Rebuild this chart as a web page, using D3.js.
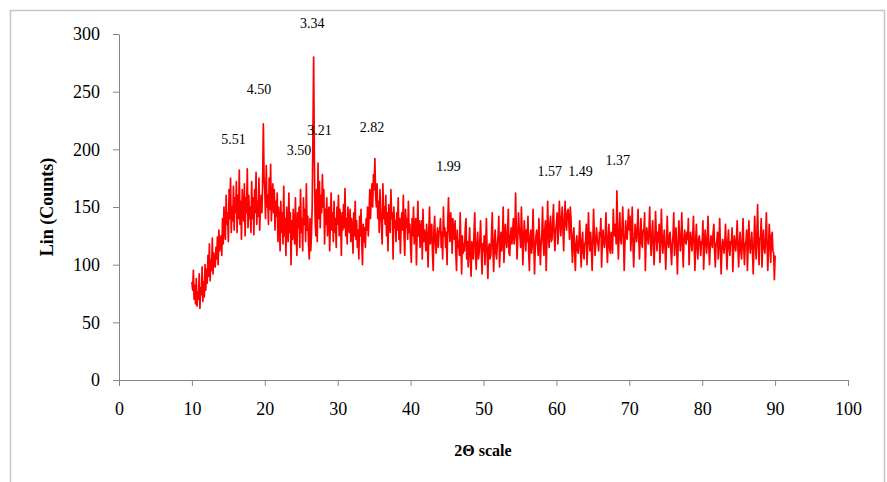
<!DOCTYPE html>
<html>
<head>
<meta charset="utf-8">
<script src="https://cdn.jsdelivr.net/npm/d3@7"></script>
<style>
  body { margin: 0; background: #fff; }
  svg { display: block; }
  .axis path, .axis line { stroke: #868686; }
  .axis text { font-family: "Liberation Serif", "Times New Roman", serif; font-size: 18px; fill: #000; }
</style>
</head>
<body>
<svg id="chart" width="887" height="482"></svg>
<script>
// 2-theta start/step of the scan and counts (0.1 deg steps, 10..90)
var thetaStart = 10;
var thetaStep = 0.1;
var counts = [
  85, 78, 95, 70, 82, 66, 88, 64, 76, 70, 92, 62, 80, 74, 98, 68, 85, 72, 100, 78,
  96, 84, 108, 90, 118, 86, 104, 95, 123, 92, 110, 100, 98, 115, 105, 124, 100, 130, 112, 118,
  125, 108, 140, 118, 150, 130, 122, 160, 135, 145, 120, 165, 140, 175, 128, 150, 138, 168, 130, 158,
  145, 172, 128, 160, 140, 182, 135, 155, 122, 165, 148, 138, 170, 125, 158, 145, 183, 132, 160, 140,
  150, 128, 172, 140, 158, 126, 165, 145, 180, 135, 155, 142, 175, 130, 150, 160, 145, 170, 222, 175,
  165, 140, 186, 150, 160, 135, 175, 148, 187, 138, 158, 170, 145, 165, 130, 155, 142, 162, 120, 150,
  138, 112, 155, 128, 145, 118, 168, 125, 140, 108, 150, 132, 120, 162, 128, 145, 100, 138, 122, 148,
  130, 118, 158, 125, 108, 145, 132, 150, 115, 165, 128, 140, 112, 158, 135, 148, 120, 170, 130, 142,
  118, 105, 140, 112, 125, 150, 210, 280, 190, 140, 125, 165, 120, 188, 140, 172, 132, 160, 145, 178,
  150, 165, 118, 148, 135, 158, 125, 142, 150, 112, 138, 162, 130, 145, 120, 155, 128, 140, 115, 150,
  135, 160, 125, 148, 138, 108, 145, 130, 152, 132, 166, 125, 140, 118, 150, 135, 128, 148, 120, 140,
  132, 110, 145, 125, 155, 122, 138, 115, 130, 105, 142, 125, 148, 118, 100, 135, 120, 132, 115, 140,
  130, 150, 125, 142, 165, 140, 158, 170, 150, 178, 165, 192, 160, 150, 170, 140, 155, 128, 165, 145,
  135, 118, 170, 140, 150, 135, 160, 125, 145, 112, 152, 138, 128, 165, 140, 145, 105, 150, 132, 138,
  120, 145, 130, 158, 122, 140, 110, 135, 145, 130, 160, 125, 108, 148, 132, 140, 122, 155, 128, 135,
  115, 102, 140, 125, 150, 118, 132, 140, 100, 128, 155, 125, 138, 115, 130, 138, 105, 148, 120, 130,
  125, 112, 135, 120, 98, 130, 150, 118, 128, 135, 110, 95, 130, 142, 120, 110, 125, 132, 115, 128,
  130, 140, 115, 128, 105, 150, 125, 132, 115, 128, 100, 138, 158, 130, 120, 145, 135, 110, 140, 125,
  122, 138, 110, 95, 130, 115, 120, 108, 145, 118, 92, 125, 110, 118, 112, 132, 140, 105, 120, 98,
  115, 132, 105, 90, 120, 112, 105, 128, 145, 110, 96, 118, 128, 105, 110, 122, 138, 112, 92, 118,
  112, 125, 100, 118, 140, 110, 88, 115, 118, 105, 108, 125, 145, 112, 94, 120, 130, 110, 105, 118,
  125, 142, 98, 115, 128, 112, 120, 150, 102, 118, 135, 122, 115, 128, 148, 110, 108, 125, 132, 118,
  128, 140, 118, 125, 162, 130, 105, 122, 145, 132, 125, 115, 150, 128, 100, 120, 138, 125, 112, 130,
  120, 142, 110, 95, 125, 130, 110, 118, 148, 120, 92, 115, 125, 130, 118, 108, 140, 122, 100, 118,
  125, 150, 118, 108, 130, 138, 95, 120, 155, 128, 115, 135, 142, 120, 122, 138, 152, 125, 112, 130,
  135, 145, 118, 130, 155, 140, 125, 138, 150, 130, 112, 140, 155, 135, 130, 145, 148, 138, 122, 150,
  140, 118, 102, 125, 132, 110, 95, 118, 125, 112, 110, 122, 138, 115, 98, 120, 128, 110, 105, 118,
  120, 135, 100, 118, 145, 122, 112, 128, 115, 95, 120, 148, 125, 108, 118, 132, 122, 118, 112, 128,
  125, 140, 98, 118, 130, 120, 115, 125, 145, 118, 102, 122, 135, 115, 110, 128, 125, 110, 148, 130,
  125, 135, 118, 164, 130, 105, 125, 145, 122, 118, 130, 150, 125, 95, 118, 138, 125, 122, 135, 148,
  130, 142, 112, 125, 150, 120, 98, 118, 135, 128, 120, 132, 148, 122, 105, 125, 140, 118, 115, 130,
  128, 145, 95, 120, 132, 125, 118, 130, 150, 120, 108, 125, 138, 118, 100, 122, 146, 125, 112, 128,
  120, 135, 102, 118, 148, 125, 110, 122, 130, 115, 96, 118, 142, 120, 115, 125, 128, 112, 100, 118,
  125, 145, 108, 120, 132, 115, 92, 118, 138, 125, 112, 120, 145, 118, 98, 122, 130, 120, 118, 128,
  122, 140, 100, 118, 128, 120, 112, 125, 142, 118, 95, 120, 135, 115, 105, 122, 125, 118, 108, 120,
  118, 138, 96, 115, 130, 122, 110, 120, 142, 118, 100, 115, 125, 120, 115, 128, 135, 112, 98, 118,
  120, 128, 105, 118, 140, 115, 92, 112, 122, 118, 110, 120, 135, 115, 96, 118, 130, 115, 108, 120,
  118, 132, 94, 112, 125, 118, 112, 122, 138, 115, 98, 118, 128, 112, 105, 120, 140, 115, 100, 118,
  120, 130, 95, 115, 138, 120, 110, 118, 128, 112, 92, 118, 142, 120, 105, 125, 152, 118, 100, 122,
  125, 140, 98, 118, 130, 115, 110, 122, 145, 118, 95, 115, 135, 120, 102, 125, 128, 112, 110, 87,
  108
];

// d-spacing labels over the peaks (2-theta, counts where the label sits)
var peakNames = ["3.34", "4.50", "5.51", "3.50", "3.21", "2.82", "1.99", "1.57", "1.49", "1.37"];
var peakTheta = [26.5, 19.2, 15.7, 24.7, 27.5, 34.7, 45.2, 59.1, 63.3, 68.4];
var peakCount = [305, 248, 205, 195, 212, 215, 181, 177, 177, 186];

var xTicks = [0, 10, 20, 30, 40, 50, 60, 70, 80, 90, 100];
var yTicks = [0, 50, 100, 150, 200, 250, 300];

var svg = d3.select("#chart");

// outer frame
svg.append("rect")
    .attr("x", 10.5).attr("y", 10.5)
    .attr("width", 874).attr("height", 490)
    .attr("fill", "none")
    .attr("stroke", "#c6c6c6")
    .attr("stroke-width", 1.5);

var x = d3.scaleLinear().domain([0, 100]).range([119, 848]);
var y = d3.scaleLinear().domain([0, 300]).range([380, 34]);

svg.append("g")
    .attr("class", "axis")
    .attr("transform", "translate(0,380)")
    .call(d3.axisBottom(x).tickValues(xTicks).tickSize(6).tickSizeOuter(0).tickPadding(16));

svg.append("g")
    .attr("class", "axis")
    .attr("transform", "translate(119,0)")
    .call(d3.axisLeft(y).tickValues(yTicks).tickSize(6).tickSizeOuter(0).tickPadding(13));

var lineData = counts.map(function(c, i) { return {t: thetaStart + i * thetaStep, c: c}; });

var lineFunc = d3.line()
    .x(function(d) { return x(d.t); })
    .y(function(d) { return y(d.c); });

svg.append("path")
    .attr("d", lineFunc(lineData))
    .attr("fill", "none")
    .attr("stroke", "#ff0000")
    .attr("stroke-width", 1.7)
    .attr("stroke-linejoin", "round");

svg.append("g").selectAll("text")
    .data(peakNames)
    .enter().append("text")
    .attr("x", function(d, i) { return x(peakTheta[i]); })
    .attr("y", function(d, i) { return y(peakCount[i]); })
    .attr("text-anchor", "middle")
    .style("font-family", "'Liberation Serif', 'Times New Roman', serif")
    .style("font-size", "14px")
    .text(function(d) { return d; });

// axis titles
svg.append("text")
    .attr("transform", "translate(53,207) rotate(-90)")
    .attr("text-anchor", "middle")
    .style("font-family", "'Liberation Serif', 'Times New Roman', serif")
    .style("font-size", "18px")
    .style("font-weight", "bold")
    .text("Lin (Counts)");

svg.append("text")
    .attr("x", 483).attr("y", 456)
    .attr("text-anchor", "middle")
    .style("font-family", "'Liberation Serif', 'Times New Roman', serif")
    .style("font-size", "16px")
    .style("font-weight", "bold")
    .text("2Θ scale");
</script>
</body>
</html>
